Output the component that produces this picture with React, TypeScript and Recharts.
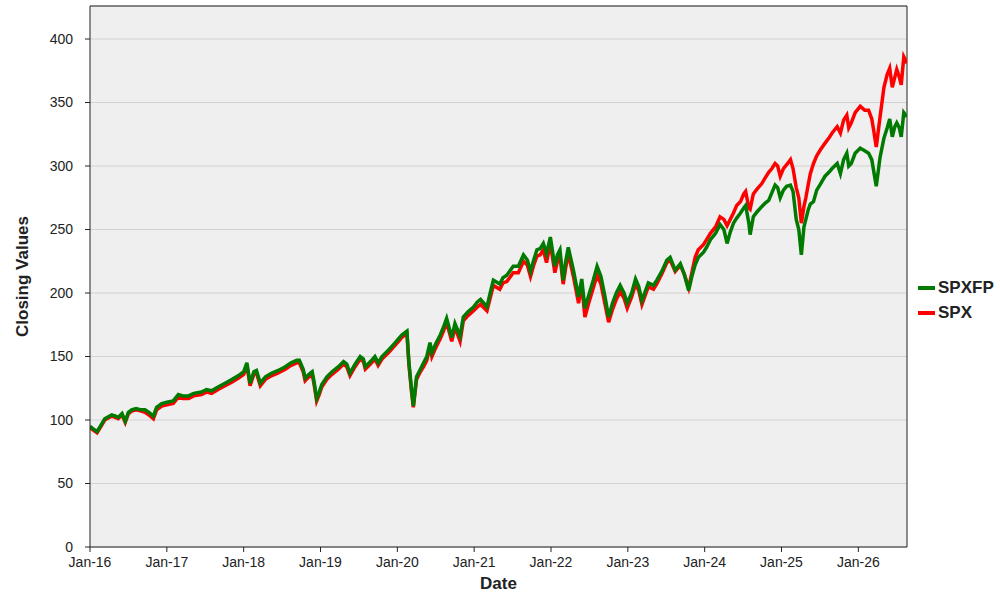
import { LineChart, Line, XAxis, YAxis, CartesianGrid, Legend, ReferenceLine } from 'recharts';

// months since Jan-2016 (fractional)
const months = [
  0, 0.5, 1.1, 1.6, 2.3, 3.0, 3.4, 4.0, 4.4, 5.0, 5.5, 6.0, 6.5, 7.2, 8.0, 8.6, 9.2, 9.9, 10.4, 11.2,
  12.0, 13.0, 13.8, 14.5, 15.4, 16.2, 17.4, 18.2, 19.0, 20.0, 21.1, 22.2, 23.2,
  24.0, 24.5, 25.0, 25.6, 26.0, 26.6, 27.4, 28.4, 29.4, 30.5, 31.4, 32.3, 32.7, 33.3, 33.6, 34.2, 34.7, 35.0, 35.4, 35.8,
  36.2, 37.0, 37.8, 38.8, 39.6, 40.1, 40.6, 41.4, 42.2, 42.7, 43.0, 43.8, 44.5, 45.0, 45.6, 46.6, 47.5,
  48.2, 48.7, 49.5, 49.8, 50.2, 50.5, 51.0, 51.6, 52.1, 52.6, 53.1, 53.4, 54.0, 54.7, 55.2, 55.7, 56.5, 57.0, 57.8, 58.3, 59.0, 59.9,
  60.5, 61.0, 62.0, 62.5, 63.0, 64.0, 64.5, 65.1, 66.1, 66.9, 67.7, 68.3, 68.8, 69.3, 69.8, 70.3, 70.8, 71.3, 71.9,
  72.6, 73.0, 73.4, 73.9, 74.3, 74.7, 75.5, 76.3, 76.8, 77.3, 78.0, 78.6, 79.2, 79.8, 80.4, 81.0, 81.6, 82.2, 82.8, 83.4, 83.9,
  84.6, 85.2, 85.7, 86.2, 86.7, 87.2, 88.0, 88.5, 89.3, 90.1, 90.6, 91.4, 92.2, 92.8, 93.5,
  94.0, 94.5, 95.0, 95.8, 96.3, 96.9, 97.7, 98.4, 99.0, 99.5, 100.0, 100.5, 101.0, 101.6, 102.1, 102.4, 102.9, 103.1, 103.6, 104.2,
  104.9, 105.5, 106.0, 106.5, 107.0, 107.4, 107.8, 108.3, 108.8, 109.4, 109.8, 110.3, 110.7, 111.1, 111.5, 111.8, 112.2, 112.5, 113.0, 113.5,
  114.1, 114.8, 115.4, 115.9, 116.7, 117.2, 117.7, 118.2, 118.5, 118.9, 119.5, 120.3, 121.0, 121.6, 122.1, 122.4, 122.8, 123.4, 124.0, 124.5,
  124.9, 125.3, 125.7, 126.0, 126.4, 126.7, 127.1, 127.4, 127.6,
];

const spxfp = [
  95, 93, 91, 95, 101, 103, 104, 103, 102, 105, 99, 106, 108, 109, 108, 108, 106, 103, 110, 113,
  114, 115, 120, 119, 119, 121, 122, 124, 123, 126, 129, 132, 135,
  138, 145, 129, 138, 139, 129, 134, 137, 139, 142, 145, 147, 147, 140, 133, 136, 138, 130, 117, 122,
  128, 134, 138, 142, 146, 144, 137, 144, 150, 148, 142, 146, 150, 145, 150, 155, 160,
  164, 167, 170, 146, 125, 111, 134, 140, 145, 150, 161, 153, 160, 167, 173, 180, 165, 176, 166, 181, 185, 189,
  193, 195, 189, 200, 210, 207, 212, 214, 221, 221, 230, 226, 217, 226, 234, 235, 239, 231, 244,
  221, 230, 234, 210, 225, 236, 218, 197, 211, 188, 200, 210, 221, 213, 198, 181, 192, 200, 206, 200, 192,
  200, 211, 205, 194, 201, 208, 206, 210, 217, 226, 228, 218, 223, 215, 202,
  213, 222, 228, 232, 236, 242, 247, 254, 250, 239, 248, 255, 259, 263, 267, 269, 255, 246, 260, 264,
  268, 271, 273, 279, 285, 283, 275, 281, 284, 285, 280, 258, 250, 230, 252, 258, 266, 270, 272, 281,
  286, 292, 295, 298, 302, 294, 305, 310, 300, 302, 310, 314, 312, 310, 305, 296, 284, 307, 322, 330,
  337, 323, 331, 334, 330, 323, 342, 340, 339,
];

const spx = [
  94, 92, 90, 94, 100, 102, 103, 102, 101, 104, 98, 105, 107, 108, 107, 106, 104, 101, 108, 111,
  112, 113, 118, 117, 117, 119, 120, 122, 121, 124, 127, 130, 133,
  136, 143, 127, 136, 137, 127, 132, 135, 137, 140, 143, 145, 145, 138, 131, 134, 136, 128, 115, 120,
  126, 132, 136, 140, 144, 142, 135, 142, 148, 146, 140, 144, 148, 143, 148, 153, 158,
  162, 165, 168, 144, 123, 110, 132, 138, 142, 147, 158, 150, 157, 164, 170, 177, 162, 173, 162, 178, 182, 186,
  189, 191, 186, 196, 206, 203, 208, 209, 216, 216, 225, 222, 213, 222, 229, 230, 234, 224, 239,
  216, 225, 229, 207, 220, 231, 213, 192, 206, 181, 194, 204, 214, 207, 192, 177, 187, 195, 201, 196, 188,
  197, 207, 202, 191, 198, 205, 203, 207, 215, 224, 226, 217, 222, 215, 204,
  216, 228, 234, 238, 242, 247, 252, 260, 258, 253, 258, 263, 269, 272, 278, 280, 267, 266, 278, 282,
  286, 291, 295, 298, 302, 300, 292, 298, 301, 305, 298, 283, 275, 255, 268, 275, 286, 294, 302, 308,
  313, 318, 322, 326, 331, 326, 336, 340, 330, 334, 342, 347, 344, 344, 337, 328, 315, 339, 362, 372,
  377, 362, 370, 376, 370, 364, 386, 383, 381,
];

const yearTicks = [0, 12, 24, 36, 48, 60, 72, 84, 96, 108, 120];
const valueTicks = [0, 50, 100, 150, 200, 250, 300, 350, 400];

const series = [
  { key: 'spxfp', name: 'SPXFP', color: '#007a00' },
  { key: 'spx', name: 'SPX', color: '#ff0000' },
];

const data = months.map((m, i) => ({ m, spxfp: spxfp[i], spx: spx[i] }));

const font = '"Liberation Sans", Arial, sans-serif';

function LegendBox() {
  return (
    <div style={{ width: 88, fontFamily: font }}>
      {series.map((s) => (
        <div key={s.key} style={{ display: 'flex', alignItems: 'center', height: 25, paddingLeft: 11 }}>
          <svg width={17} height={4} style={{ display: 'block' }}>
            <rect x={0} y={0} width={17} height={4} fill={s.color} />
          </svg>
          <span style={{ marginLeft: 3, fontSize: 17, fontWeight: 'bold', color: '#222' }}>{s.name}</span>
        </div>
      ))}
    </div>
  );
}

export default function App() {
  return (
    <div style={{ position: 'absolute', left: 0, top: 0, background: '#fff' }}>
      <LineChart width={1000} height={600} data={data} margin={{ top: 6, right: 5, bottom: 0, left: 0 }}>
        <CartesianGrid vertical={false} stroke="#d2d2d2" fill="#efefef" />
        <XAxis
          dataKey="m"
          type="number"
          domain={[0, 127.6]}
          ticks={yearTicks}
          allowDataOverflow
          tickFormatter={(m: number) => `Jan-${16 + m / 12}`}
          height={53}
          tickSize={5}
          tickMargin={5}
          stroke="#222"
          tick={{ fill: '#222', fontSize: 14, fontFamily: font }}
          label={{ value: 'Date', position: 'insideBottom', offset: 11, style: { fontWeight: 'bold', fontSize: 17, fill: '#222', fontFamily: font } }}
        />
        <YAxis
          type="number"
          domain={[0, 426]}
          ticks={valueTicks}
          width={90}
          tickSize={5}
          tickMargin={12}
          stroke="#222"
          tick={{ fill: '#222', fontSize: 14, fontFamily: font }}
          label={{ value: 'Closing Values', angle: -90, position: 'insideLeft', offset: 22, style: { textAnchor: 'middle', fontWeight: 'bold', fontSize: 17, fill: '#222', fontFamily: font } }}
        />
        <ReferenceLine y={426} stroke="#222" />
        <ReferenceLine x={127.6} stroke="#222" />
        <Line type="linear" dataKey="spx" name="SPX" stroke="#ff0000" strokeWidth={3.5} dot={false} isAnimationActive={false} />
        <Line type="linear" dataKey="spxfp" name="SPXFP" stroke="#007a00" strokeWidth={3.5} dot={false} isAnimationActive={false} />
        <Legend layout="vertical" align="right" verticalAlign="middle" content={() => <LegendBox />} />
      </LineChart>
    </div>
  );
}
